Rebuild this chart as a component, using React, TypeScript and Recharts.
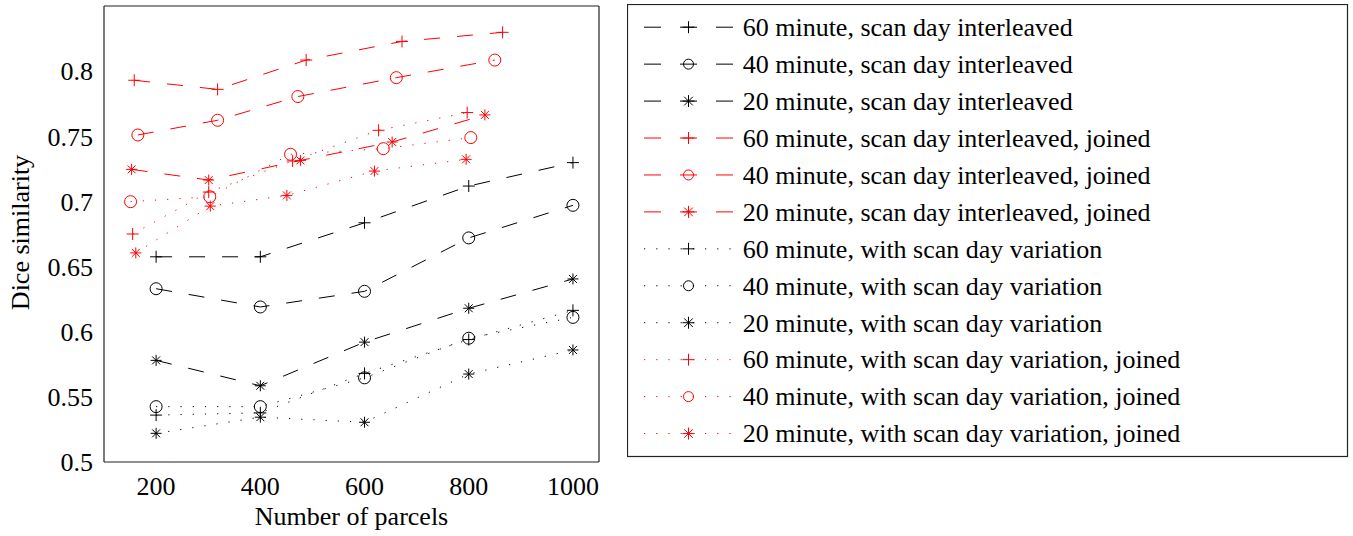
import React from 'react';
import { LineChart, Line, XAxis, YAxis, Legend } from 'recharts';

const FONT = '"Liberation Serif", "Times New Roman", serif';
const RED = '#ff0000';
const BLACK = '#000000';

// categories / ticks
const xTicks = [200, 400, 600, 800, 1000];
const yTicks = [0.5, 0.55, 0.6, 0.65, 0.7, 0.75, 0.8];
const xDomain = [100, 1050];
const yDomain = [0.5, 0.85];

// black series share the same x positions
const parcels = [200, 400, 600, 800, 1000];
const interleaved60 = [0.6575, 0.6575, 0.6836, 0.7118, 0.7298];
const interleaved40 = [0.633, 0.619, 0.631, 0.672, 0.697];
const interleaved20 = [0.578, 0.5585, 0.592, 0.618, 0.6405];
const variation60 = [0.536, 0.5377, 0.568, 0.594, 0.6164];
const variation40 = [0.5425, 0.5425, 0.5646, 0.595, 0.611];
const variation20 = [0.522, 0.5344, 0.5305, 0.5675, 0.586];

// red (joined) series have their own parcel counts
const interleavedJoined60X = [158, 318, 488, 672, 865];
const interleavedJoined60 = [0.793, 0.786, 0.8085, 0.8228, 0.8298];
const interleavedJoined40X = [165, 318, 472, 661, 850];
const interleavedJoined40 = [0.751, 0.7623, 0.7805, 0.795, 0.8085];
const interleavedJoined20X = [153, 301, 477, 653, 831];
const interleavedJoined20 = [0.7246, 0.7164, 0.7315, 0.7456, 0.7664];
const variationJoined60X = [155, 301, 462, 627, 797];
const variationJoined60 = [0.675, 0.7072, 0.731, 0.7546, 0.7682];
const variationJoined40X = [151, 303, 458, 636, 804];
const variationJoined40 = [0.6998, 0.7036, 0.7362, 0.7405, 0.749];
const variationJoined20X = [161, 304, 451, 619, 795];
const variationJoined20 = [0.6605, 0.6964, 0.7046, 0.7233, 0.7323];

const seriesNames = [
  '60 minute, scan day interleaved',
  '40 minute, scan day interleaved',
  '20 minute, scan day interleaved',
  '60 minute, scan day interleaved, joined',
  '40 minute, scan day interleaved, joined',
  '20 minute, scan day interleaved, joined',
  '60 minute, with scan day variation',
  '40 minute, with scan day variation',
  '20 minute, with scan day variation',
  '60 minute, with scan day variation, joined',
  '40 minute, with scan day variation, joined',
  '20 minute, with scan day variation, joined',
];

type Shape = 'plus' | 'circle' | 'star';
type Series = { name: string; color: string; style: 'dashed' | 'dotted'; shape: Shape; xs: number[]; ys: number[] };

const series: Series[] = [
  { name: seriesNames[0], color: BLACK, style: 'dashed', shape: 'plus', xs: parcels, ys: interleaved60 },
  { name: seriesNames[1], color: BLACK, style: 'dashed', shape: 'circle', xs: parcels, ys: interleaved40 },
  { name: seriesNames[2], color: BLACK, style: 'dashed', shape: 'star', xs: parcels, ys: interleaved20 },
  { name: seriesNames[3], color: RED, style: 'dashed', shape: 'plus', xs: interleavedJoined60X, ys: interleavedJoined60 },
  { name: seriesNames[4], color: RED, style: 'dashed', shape: 'circle', xs: interleavedJoined40X, ys: interleavedJoined40 },
  { name: seriesNames[5], color: RED, style: 'dashed', shape: 'star', xs: interleavedJoined20X, ys: interleavedJoined20 },
  { name: seriesNames[6], color: BLACK, style: 'dotted', shape: 'plus', xs: parcels, ys: variation60 },
  { name: seriesNames[7], color: BLACK, style: 'dotted', shape: 'circle', xs: parcels, ys: variation40 },
  { name: seriesNames[8], color: BLACK, style: 'dotted', shape: 'star', xs: parcels, ys: variation20 },
  { name: seriesNames[9], color: RED, style: 'dotted', shape: 'plus', xs: variationJoined60X, ys: variationJoined60 },
  { name: seriesNames[10], color: RED, style: 'dotted', shape: 'circle', xs: variationJoined40X, ys: variationJoined40 },
  { name: seriesNames[11], color: RED, style: 'dotted', shape: 'star', xs: variationJoined20X, ys: variationJoined20 },
];

const PLOT_DASH = '16 17';
const PLOT_DOT = '1.2 11';
const LEG_DASH = '17 19';
const LEG_DOT = '1.2 11';

function Marker({ cx, cy, shape, color, s }: { cx: number; cy: number; shape: Shape; color: string; s: number }) {
  if (cx == null || cy == null || isNaN(cx) || isNaN(cy)) return null;
  if (shape === 'circle') {
    return <circle cx={cx} cy={cy} r={s} fill="none" stroke={color} strokeWidth={1} />;
  }
  const d = s * 0.72;
  return (
    <g stroke={color} strokeWidth={1} fill="none">
      <line x1={cx - s} y1={cy} x2={cx + s} y2={cy} />
      <line x1={cx} y1={cy - s} x2={cx} y2={cy + s} />
      {shape === 'star' && <line x1={cx - d} y1={cy - d} x2={cx + d} y2={cy + d} />}
      {shape === 'star' && <line x1={cx - d} y1={cy + d} x2={cx + d} y2={cy - d} />}
    </g>
  );
}

const markerSize = (shape: Shape) => (shape === 'circle' ? 6 : shape === 'star' ? 5.5 : 6);

function LegendBox() {
  const W = 720;
  const H = 452;
  const rowTop = 23.2;
  const rowStep = 36.94;
  return (
    <svg width={W + 2} height={H + 2} style={{ display: 'block' }}>
      <rect x={0.5} y={0.5} width={W} height={H} fill="#fff" stroke="#222" strokeWidth={1.2} />
      {series.map((s, i) => {
        const cy = rowTop + rowStep * i;
        return (
          <g key={s.name}>
            <line
              x1={17}
              y1={cy}
              x2={106}
              y2={cy}
              stroke={s.color}
              strokeWidth={1}
              strokeDasharray={s.style === 'dashed' ? LEG_DASH : LEG_DOT}
            />
            <Marker cx={61.5} cy={cy} shape={s.shape} color={s.color} s={s.shape === 'circle' ? 5 : 6} />
            <text x={115.7} y={cy + 8.8} fontFamily={FONT} fontSize={26} fill="#000">
              {s.name}
            </text>
          </g>
        );
      })}
    </svg>
  );
}

const tickStyle = { fill: '#000', fontSize: 26, fontFamily: FONT };
const frame = { stroke: '#222', strokeWidth: 1.2 };

export default function App() {
  return (
    <div style={{ position: 'absolute', left: 0, top: 0, background: '#fff' }}>
      <LineChart width={1353} height={536} margin={{ top: 6, right: 754, bottom: 73, left: 103 }}>
        <XAxis
          xAxisId="x"
          type="number"
          dataKey="x"
          domain={xDomain}
          ticks={xTicks}
          allowDataOverflow
          orientation="bottom"
          height={1}
          tickLine={false}
          axisLine={false}
          tickSize={0}
          tickMargin={14.5}
          tick={tickStyle}
          label={{ value: 'Number of parcels', position: 'bottom', offset: 44, fill: '#000', fontSize: 26, fontFamily: FONT }}
        />
        <XAxis
          xAxisId="xb"
          type="number"
          domain={xDomain}
          ticks={xTicks}
          allowDataOverflow
          orientation="bottom"
          height={1}
          mirror
          tick={false}
          tickSize={6}
          tickLine={frame}
          axisLine={frame}
        />
        <XAxis
          xAxisId="xt"
          type="number"
          domain={xDomain}
          ticks={xTicks}
          allowDataOverflow
          orientation="top"
          height={1}
          mirror
          tick={false}
          tickSize={6}
          tickLine={frame}
          axisLine={frame}
        />
        <YAxis
          yAxisId="y"
          type="number"
          domain={yDomain}
          ticks={yTicks}
          allowDataOverflow
          orientation="left"
          width={1}
          tickLine={false}
          axisLine={false}
          tickSize={0}
          tickMargin={11}
          tick={tickStyle}
          label={{
            content: (props: any) => {
              const vb = props.viewBox || { x: 103, y: 6, width: 1, height: 456 };
              const cx = vb.x + vb.width - 75;
              const cy = vb.y + vb.height / 2 - 1.5;
              return (
                <text
                  x={cx}
                  y={cy}
                  transform={`rotate(-90 ${cx} ${cy})`}
                  textAnchor="middle"
                  fontFamily={FONT}
                  fontSize={26}
                  fill="#000"
                >
                  Dice similarity
                </text>
              );
            },
          }}
        />
        <YAxis
          yAxisId="yl"
          type="number"
          domain={yDomain}
          ticks={yTicks}
          allowDataOverflow
          orientation="left"
          width={1}
          mirror
          tick={false}
          tickSize={6}
          tickLine={frame}
          axisLine={frame}
        />
        <YAxis
          yAxisId="yr"
          type="number"
          domain={yDomain}
          ticks={yTicks}
          allowDataOverflow
          orientation="right"
          width={1}
          mirror
          tick={false}
          tickSize={6}
          tickLine={frame}
          axisLine={frame}
        />
        {series.map((s) => (
          <Line
            key={s.name}
            name={s.name}
            xAxisId="x"
            yAxisId="y"
            data={s.xs.map((x, i) => ({ x, y: s.ys[i] }))}
            dataKey="y"
            type="linear"
            stroke={s.color}
            strokeWidth={1}
            strokeDasharray={s.style === 'dashed' ? PLOT_DASH : PLOT_DOT}
            isAnimationActive={false}
            activeDot={false}
            dot={(p: any) => (
              <Marker key={`${s.name}-${p.index}`} cx={p.cx} cy={p.cy} shape={s.shape} color={s.color} s={markerSize(s.shape)} />
            )}
          />
        ))}
        <Legend
          layout="vertical"
          align="center"
          verticalAlign="middle"
          content={() => <LegendBox />}
          wrapperStyle={{ left: 627, top: 3.5, width: 722, height: 454 }}
        />
      </LineChart>
    </div>
  );
}
